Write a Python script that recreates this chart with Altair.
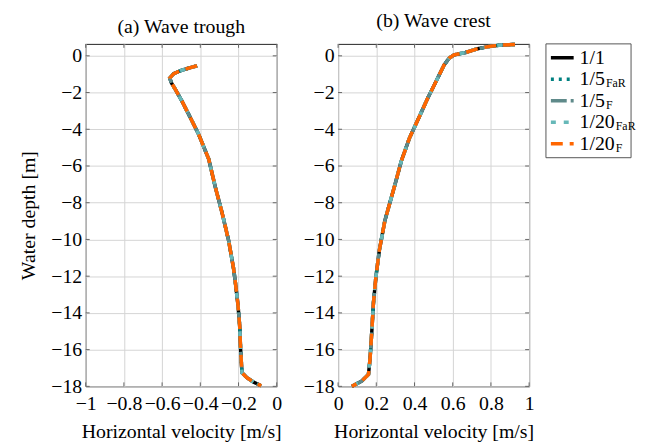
import altair as alt
import pandas as pd

# ---------------- data ----------------
depth_trough = [-0.54, -0.67, -0.81, -0.97, -1.21, -1.48, -1.84, -2.47, -3.37, -4.27,
                -5.62, -7.17, -8.51, -10.05, -11.58, -12.3, -13.55, -14.7, -16.0,
                -17.26, -17.53, -17.77, -17.97]
vel_trough = [-0.417, -0.461, -0.504, -0.539, -0.560, -0.551, -0.530, -0.496, -0.452,
              -0.409, -0.356, -0.321, -0.287, -0.252, -0.226, -0.217, -0.203, -0.194,
              -0.189, -0.182, -0.156, -0.121, -0.081]

depth_crest = [0.62, 0.59, 0.52, 0.38, 0.18, 0.05, -0.13, -0.50, -1.41, -2.31, -3.30,
               -4.47, -5.73, -7.08, -8.34, -8.97, -10.59, -12.04, -13.47, -15.1, -16.54,
               -17.35, -17.71, -18.0]
vel_crest = [0.926, 0.857, 0.797, 0.728, 0.667, 0.607, 0.581, 0.555, 0.512, 0.469, 0.426,
             0.374, 0.331, 0.296, 0.262, 0.245, 0.216, 0.198, 0.185, 0.176, 0.167,
             0.159, 0.124, 0.072]

SERIES = ["1/1", "1/5_FaR", "1/5_F", "1/20_FaR", "1/20_F"]
LABEL_MAIN = ["1/1", "1/5", "1/5", "1/20", "1/20"]
LABEL_SUB = ["", "FaR", "F", "FaR", "F"]

X_TICKS_TROUGH = [-1, -0.8, -0.6, -0.4, -0.2, 0]
X_TICKS_CREST = [0, 0.2, 0.4, 0.6, 0.8, 1]
Y_TICKS = [-18, -16, -14, -12, -10, -8, -6, -4, -2, 0]

# ---------------- style ----------------
COLORS = ["#000000", "#008080", "#5f8a8a", "#66b8b8", "#ff6600"]
DASHES = [[1, 0], [3, 5], [16, 4], [5, 8], [12, 7]]
FONT = "Liberation Serif"
FS = 20
W, H = 193, 346
GRID = "#d5d5d5"
TICK = "#666666"

AX = dict(grid=True, gridColor=GRID, gridWidth=1, domain=False, ticks=False, tickSize=0,
          labelOverlap=False, labelFlush=False, format="~g",
          labelFont=FONT, titleFont=FONT, labelFontSize=FS, titleFontSize=FS,
          labelColor="black", titleColor="black", titleFontWeight="normal")


def x_axis(values):
    return alt.Axis(values=values, title="Horizontal velocity [m/s]",
                    labelPadding=7, titlePadding=9, **AX)


def y_axis(title):
    if title:
        return alt.Axis(values=Y_TICKS, title=title, labelPadding=4, titlePadding=12, **AX)
    return alt.Axis(values=Y_TICKS, title=None, labelPadding=4, **AX)


def panel_layers(vel, depth, xdom, xticks, ytitle):
    df = pd.DataFrame({"v": vel, "d": depth, "i": list(range(len(vel)))})
    xs = alt.Scale(domain=xdom, nice=False, zero=False)
    ys = alt.Scale(domain=[-18, 0.65], nice=False, zero=False)
    xenc = alt.X("v:Q", scale=xs, axis=x_axis(xticks))
    yenc = alt.Y("d:Q", scale=ys, axis=y_axis(ytitle))
    xt = pd.DataFrame({"v": xticks})
    yt = pd.DataFrame({"d": Y_TICKS})
    layers = [
        alt.Chart(xt).mark_rule(color=TICK, strokeWidth=1).encode(
            x=xenc, y=alt.value(H), y2=alt.value(H - 4)),
        alt.Chart(xt).mark_rule(color=TICK, strokeWidth=1).encode(
            x=xenc, y=alt.value(0), y2=alt.value(4)),
        alt.Chart(yt).mark_rule(color=TICK, strokeWidth=1).encode(
            y=yenc, x=alt.value(0), x2=alt.value(4)),
        alt.Chart(yt).mark_rule(color=TICK, strokeWidth=1).encode(
            y=yenc, x=alt.value(W - 4), x2=alt.value(W)),
    ]
    for c, dsh in zip(COLORS, DASHES):
        layers.append(
            alt.Chart(df).mark_line(color=c, strokeDash=dsh, strokeWidth=3.5).encode(
                x=xenc, y=yenc, order="i:Q"))
    return layers


TITLE_A = alt.TitleParams("(a) Wave trough", frame="group", anchor="middle")
TITLE_B = alt.TitleParams("(b) Wave crest", frame="group", anchor="middle")

left = alt.layer(*panel_layers(vel_trough, depth_trough, [-1, 0], X_TICKS_TROUGH,
                               "Water depth [m]")).properties(
    width=W, height=H, title=TITLE_A)

# ---------------- custom legend (drawn to the right of panel b) ----------------
leg = pd.DataFrame({"s": SERIES, "main": LABEL_MAIN, "sub": LABEL_SUB})
LX = 210  # legend box left, relative to panel b's plot area
ly = alt.Y("s:N", scale=alt.Scale(type="point", domain=SERIES, range=[14, 101], padding=0),
           axis=None)
legend_layers = [
    alt.Chart(pd.DataFrame({"k": [0]})).mark_rect(
        fill="white", fillOpacity=0, stroke="#555555", strokeWidth=1).encode(
        x=alt.value(LX), x2=alt.value(LX + 86), y=alt.value(0), y2=alt.value(115)),
    alt.Chart(leg).mark_rule(strokeWidth=3.5).encode(
        x=alt.value(LX + 5), x2=alt.value(LX + 28), y=ly,
        color=alt.Color("s:N", scale=alt.Scale(domain=SERIES, range=COLORS), legend=None),
        strokeDash=alt.StrokeDash("s:N", scale=alt.Scale(domain=SERIES, range=DASHES),
                                  legend=None)),
    alt.Chart(leg).mark_text(align="left", baseline="middle", font=FONT, fontSize=FS,
                             color="black").encode(
        x=alt.value(LX + 34), y=ly, text="main:N"),
    alt.Chart(leg).transform_calculate(
        xs=f"{LX + 34} + {FS} * (0.5 * (length(datum.main) - 1) + 0.278) + 1"
    ).mark_text(align="left", baseline="middle", font=FONT, fontSize=12, dy=4,
                color="black").encode(
        x=alt.X("xs:Q", scale=None), y=ly, text="sub:N"),
]

right = alt.layer(
    alt.layer(*panel_layers(vel_crest, depth_crest, [0, 1], X_TICKS_CREST, None)),
    alt.layer(*legend_layers),
).resolve_scale(x="independent", y="independent").properties(
    width=W, height=H, title=TITLE_B)

chart = alt.hconcat(left, right, spacing=62, bounds="flush").properties(
    padding={"left": 10.5, "top": 0, "right": 0, "bottom": 0}
).configure_axis(
    labelFont=FONT, titleFont=FONT, labelFontSize=FS, titleFontSize=FS,
    titleFontWeight="normal", labelColor="black", titleColor="black"
).configure_text(font=FONT).configure_title(
    font=FONT, fontSize=FS, fontWeight="normal", color="black", offset=7
).configure_view(stroke="#222222", strokeWidth=1)

chart.save("out.html", embed_options={"renderer": "svg", "actions": False})
